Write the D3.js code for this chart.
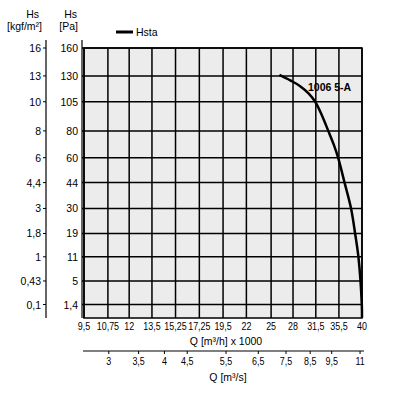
<!DOCTYPE html>
<html>
<head>
    <meta charset="utf-8">
    <title>Hs / Q curve</title>
</head>
<body style="margin:0;background:#fff">
<style>
    text {
        font-family: "Liberation Sans", Arial, Helvetica, sans-serif;
        font-size: 10.5px;
        fill: #000;
    }
</style>
<script src="https://d3js.org/d3.v7.min.js"></script>
<script>
    // pressure ticks, Pa and the matching kgf/m2 labels
    const paTicks = [160, 130, 105, 80, 60, 44, 30, 19, 11, 5, 1.4];
    const kgfLabels = ['16', '13', '10', '8', '6', '4,4', '3', '1,8', '1', '0,43', '0,1'];
    // flow ticks, m3/h x 1000
    const qTicks = [9.5, 10.75, 12, 13.5, 15.25, 17.25, 19.5, 22, 25, 28, 31.5, 35.5, 40];
    // flow ticks, m3/s
    const qsTicks = [3, 3.5, 4, 4.5, 5.5, 6.5, 7.5, 8.5, 9.5, 11];
    // curve 1006 5-A (Q in m3/h x 1000, Hs in Pa)
    const curveQ = [26.1, 27.6, 29.0, 30.3, 31.4, 32.5, 33.6, 34.6, 35.35, 36.55, 37.8, 38.6, 39.3, 39.96, 40];
    const curvePa = [131, 125.5, 120, 113, 105, 93, 80, 69, 60, 44, 30, 19, 10.5, 1.4, 0.35];

    const W = 406, H = 393;
    const PLOT = {left: 84, right: 362, top: 48, bottom: 318};
    const SQUEEZE = 0.85; // the flow labels are set in a narrow face

    const fmt = v => String(v).replace('.', ',');

    const svg = d3.select('body').append('svg')
        .attr('width', W)
        .attr('height', H);

    const x = d3.scaleLog().domain([9.5, 40]).range([PLOT.left, PLOT.right]);
    const y = d3.scaleSqrt().domain([0, 160]).range([331, PLOT.top]);

    // plot area
    svg.append('rect')
        .attr('x', PLOT.left)
        .attr('y', PLOT.top)
        .attr('width', PLOT.right - PLOT.left)
        .attr('height', PLOT.bottom - PLOT.top)
        .attr('fill', '#ececec')
        .attr('stroke', '#000')
        .attr('stroke-width', 1.5);

    // vertical grid
    svg.append('g').selectAll('line')
        .data(qTicks)
        .join('line')
        .attr('x1', d => x(d)).attr('x2', d => x(d))
        .attr('y1', PLOT.top).attr('y2', PLOT.bottom)
        .attr('stroke', '#000')
        .attr('stroke-width', 1.5);

    // horizontal grid, runs out to the Pa axis
    svg.append('g').selectAll('line')
        .data(paTicks)
        .join('line')
        .attr('x1', 82).attr('x2', PLOT.right)
        .attr('y1', d => y(d)).attr('y2', d => y(d))
        .attr('stroke', '#000')
        .attr('stroke-width', 1.5);

    // Pa axis
    svg.append('line')
        .attr('x1', 82).attr('x2', 82)
        .attr('y1', 40).attr('y2', PLOT.bottom)
        .attr('stroke', '#000').attr('stroke-width', 1.2);
    svg.append('g').selectAll('text')
        .data(paTicks)
        .join('text')
        .attr('x', 78)
        .attr('y', d => y(d) + 4)
        .attr('text-anchor', 'end')
        .text(d => fmt(d));

    // kgf/m2 axis, labels sit on the same heights as Pa ticks
    svg.append('line')
        .attr('x1', 46).attr('x2', 46)
        .attr('y1', 40).attr('y2', PLOT.bottom)
        .attr('stroke', '#000').attr('stroke-width', 1.2);
    const kgf = svg.append('g').selectAll('g')
        .data(paTicks)
        .join('g')
        .attr('transform', d => `translate(0,${y(d)})`);
    kgf.append('line')
        .attr('x1', 43).attr('x2', 46)
        .attr('stroke', '#000');
    kgf.append('text')
        .attr('x', 41)
        .attr('y', 4)
        .attr('text-anchor', 'end')
        .text((d, i) => kgfLabels[i]);

    // axis titles
    svg.append('text').attr('x', 39).attr('y', 18).attr('text-anchor', 'end').text('Hs');
    svg.append('text').attr('x', 42).attr('y', 30).attr('text-anchor', 'end').text('[kgf/m²]');
    svg.append('text').attr('x', 77).attr('y', 18).attr('text-anchor', 'end').text('Hs');
    svg.append('text').attr('x', 78).attr('y', 30).attr('text-anchor', 'end').text('[Pa]');

    // m3/h labels
    svg.append('g').selectAll('text')
        .data(qTicks)
        .join('text')
        .attr('transform', d => `translate(${x(d)},330) scale(${SQUEEZE},1)`)
        .attr('text-anchor', 'middle')
        .text(d => fmt(d));
    svg.append('text')
        .attr('x', 226).attr('y', 345)
        .attr('text-anchor', 'middle')
        .text('Q [m³/h] x 1000');

    // m3/s axis, 1 m3/s = 3.6 x 1000 m3/h
    svg.append('line')
        .attr('x1', 83).attr('x2', 364)
        .attr('y1', 351).attr('y2', 351)
        .attr('stroke', '#000').attr('stroke-width', 1.2);
    const qs = svg.append('g').selectAll('g')
        .data(qsTicks)
        .join('g')
        .attr('transform', d => `translate(${x(d * 3.6)},351)`);
    qs.append('line')
        .attr('y1', 0).attr('y2', 3)
        .attr('stroke', '#000');
    qs.append('text')
        .attr('transform', `translate(0,14) scale(${SQUEEZE},1)`)
        .attr('text-anchor', 'middle')
        .text(d => fmt(d));
    svg.append('text')
        .attr('x', 228).attr('y', 381)
        .attr('text-anchor', 'middle')
        .text('Q [m³/s]');

    // curve
    const pts = curveQ.map((q, i) => [q, curvePa[i]]);
    svg.append('path')
        .datum(pts)
        .attr('fill', 'none')
        .attr('stroke', '#000')
        .attr('stroke-width', 2.5)
        .attr('d', d3.line()
            .x(d => x(d[0]))
            .y(d => y(d[1]))
            .curve(d3.curveCatmullRom.alpha(0.5)));
    svg.append('text')
        .attr('x', 308).attr('y', 91)
        .attr('font-weight', 'bold')
        .attr('font-size', '10px')
        .text('1006 5-A');

    // legend
    svg.append('line')
        .attr('x1', 116).attr('x2', 133)
        .attr('y1', 32).attr('y2', 32)
        .attr('stroke', '#000').attr('stroke-width', 3);
    svg.append('text').attr('x', 136).attr('y', 36).text('Hsta');
</script>
</body>
</html>
